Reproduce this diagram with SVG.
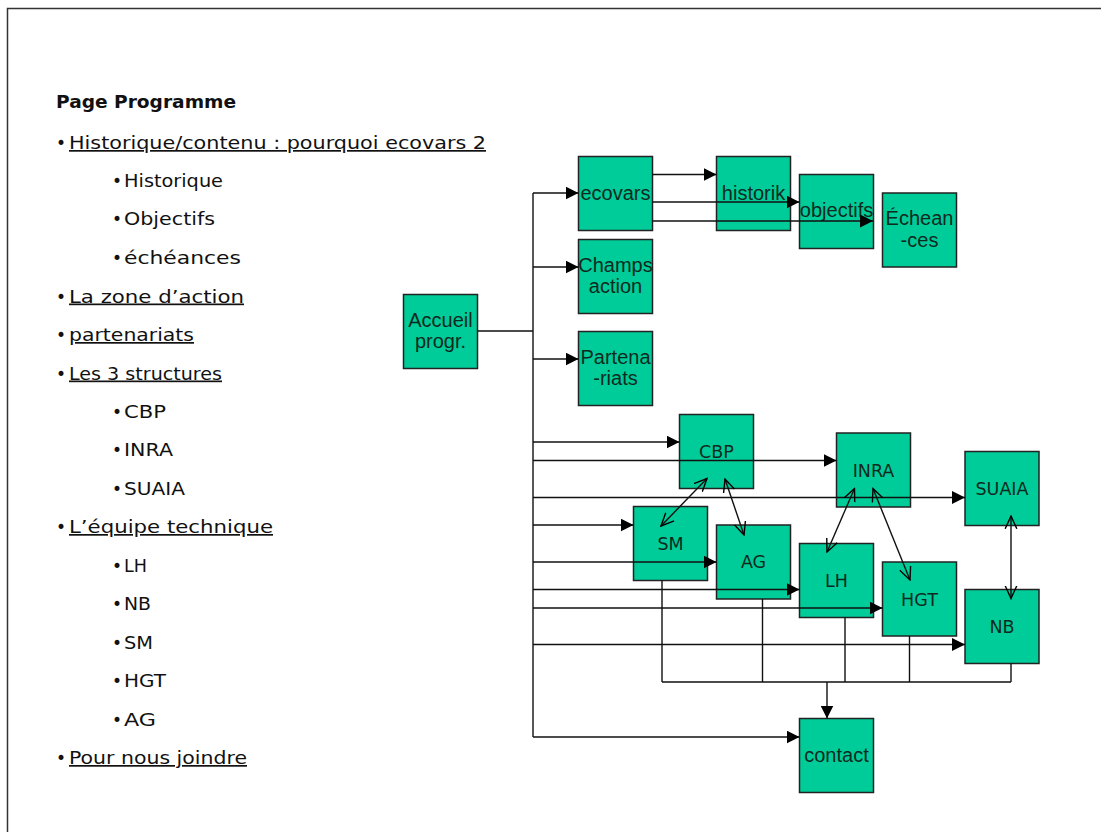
<svg xmlns="http://www.w3.org/2000/svg" width="1101" height="832" viewBox="0 0 1101 832">
<defs>
<style>
.frame{fill:none;stroke:#333;stroke-width:1.5}
.node rect{fill:#00CC99;stroke:#222;stroke-width:1.5}
.a{font-family:"Liberation Sans",Arial,sans-serif;font-size:20px;fill:#0d2a20;text-anchor:middle}
.g{font-family:"DejaVu Sans","Noto Sans",sans-serif;font-size:17.5px;fill:#0d2a20;text-anchor:middle}
.lst{font-family:"DejaVu Sans","Noto Sans",sans-serif;font-size:17px;fill:#111}
.u{text-decoration:underline}
.b{font-weight:bold}
.c{fill:none;stroke:#111;stroke-width:1.4}
</style>
<marker id="ah" markerUnits="userSpaceOnUse" markerWidth="13" markerHeight="13" viewBox="0 0 12 12" refX="12" refY="6" orient="auto">
<path d="M0,0 L12,6 L0,12 z" fill="#000"/>
</marker>
<marker id="oh" markerUnits="userSpaceOnUse" markerWidth="14" markerHeight="14" viewBox="0 0 12 12" refX="11" refY="6" orient="auto-start-reverse">
<path d="M0,1 L11,6 L0,11" fill="none" stroke="#000" stroke-width="1.2"/>
</marker>
</defs>
<rect class="frame" x="7.5" y="8.5" width="1100" height="830"/>

<g id="outline">
<text class="lst b" x="56" y="108" textLength="180" lengthAdjust="spacingAndGlyphs">Page Programme</text>
<text class="lst" x="56" y="149">•</text><text class="lst u" x="69" y="149" textLength="417" lengthAdjust="spacingAndGlyphs">Historique/contenu : pourquoi ecovars 2</text>
<text class="lst" x="112" y="187">•</text><text class="lst" x="124" y="187" textLength="99" lengthAdjust="spacingAndGlyphs">Historique</text>
<text class="lst" x="112" y="225">•</text><text class="lst" x="124" y="225" textLength="91" lengthAdjust="spacingAndGlyphs">Objectifs</text>
<text class="lst" x="112" y="263.5">•</text><text class="lst" x="124" y="263.5" textLength="117" lengthAdjust="spacingAndGlyphs">échéances</text>
<text class="lst" x="56" y="302.5">•</text><text class="lst u" x="69" y="302.5" textLength="175" lengthAdjust="spacingAndGlyphs">La zone d’action</text>
<text class="lst" x="56" y="341">•</text><text class="lst u" x="69" y="341" textLength="125" lengthAdjust="spacingAndGlyphs">partenariats</text>
<text class="lst" x="56" y="379.5">•</text><text class="lst u" x="69" y="379.5" textLength="153" lengthAdjust="spacingAndGlyphs">Les 3 structures</text>
<text class="lst" x="112" y="418">•</text><text class="lst" x="124" y="418" textLength="42" lengthAdjust="spacingAndGlyphs">CBP</text>
<text class="lst" x="112" y="456">•</text><text class="lst" x="124" y="456" textLength="49" lengthAdjust="spacingAndGlyphs">INRA</text>
<text class="lst" x="112" y="494.5">•</text><text class="lst" x="124" y="494.5" textLength="61" lengthAdjust="spacingAndGlyphs">SUAIA</text>
<text class="lst" x="56" y="533">•</text><text class="lst u" x="69" y="533" textLength="204" lengthAdjust="spacingAndGlyphs">L’équipe technique</text>
<text class="lst" x="112" y="571.5">•</text><text class="lst" x="124" y="571.5" textLength="23" lengthAdjust="spacingAndGlyphs">LH</text>
<text class="lst" x="112" y="610">•</text><text class="lst" x="124" y="610" textLength="27" lengthAdjust="spacingAndGlyphs">NB</text>
<text class="lst" x="112" y="648.5">•</text><text class="lst" x="124" y="648.5" textLength="29" lengthAdjust="spacingAndGlyphs">SM</text>
<text class="lst" x="112" y="687">•</text><text class="lst" x="124" y="687" textLength="42" lengthAdjust="spacingAndGlyphs">HGT</text>
<text class="lst" x="112" y="725.5">•</text><text class="lst" x="124" y="725.5" textLength="32" lengthAdjust="spacingAndGlyphs">AG</text>
<text class="lst" x="56" y="764">•</text><text class="lst u" x="69" y="764" textLength="178" lengthAdjust="spacingAndGlyphs">Pour nous joindre</text>
</g>

<g id="n-accueil" class="node"><rect x="403.5" y="294.5" width="74" height="74"/><text class="a" x="440.5" y="327">Accueil</text><text class="a" x="440.5" y="348">progr.</text></g>
<g id="n-ecovars" class="node"><rect x="578.5" y="156.5" width="74" height="74"/><text class="a" x="615.5" y="199.5">ecovars</text></g>
<g id="n-champs" class="node"><rect x="578.5" y="239.5" width="74" height="74"/><text class="a" x="615.5" y="271.5">Champs</text><text class="a" x="615.5" y="292.5">action</text></g>
<g id="n-partena" class="node"><rect x="578.5" y="331.5" width="74" height="74"/><text class="a" x="615.5" y="363.5">Partena</text><text class="a" x="615.5" y="385">-riats</text></g>
<g id="n-historik" class="node"><rect x="716.5" y="156.5" width="74" height="74"/><text class="a" x="753.5" y="199.5">historik</text></g>
<g id="n-objectifs" class="node"><rect x="799.5" y="174.5" width="74" height="74"/><text class="a" x="836.5" y="217">objectifs</text></g>
<g id="n-echeances" class="node"><rect x="882.5" y="193" width="74" height="74"/><text class="a" x="919.5" y="225">Échean</text><text class="a" x="919.5" y="246.5">-ces</text></g>
<g id="n-cbp" class="node"><rect x="679.5" y="414.5" width="74" height="74"/><text class="g" x="716.5" y="458">CBP</text></g>
<g id="n-inra" class="node"><rect x="836.5" y="433" width="74" height="74"/><text class="g" x="873.5" y="476.5">INRA</text></g>
<g id="n-suaia" class="node"><rect x="965" y="451.5" width="74" height="74"/><text class="g" x="1002" y="495">SUAIA</text></g>
<g id="n-sm" class="node"><rect x="633.5" y="506.5" width="74" height="74"/><text class="g" x="670.5" y="550">SM</text></g>
<g id="n-ag" class="node"><rect x="716.5" y="525" width="74" height="74"/><text class="g" x="753.5" y="568">AG</text></g>
<g id="n-lh" class="node"><rect x="799.5" y="543.5" width="74" height="74"/><text class="g" x="836.5" y="586.5">LH</text></g>
<g id="n-hgt" class="node"><rect x="882.5" y="562" width="74" height="74"/><text class="g" x="919.5" y="605.5">HGT</text></g>
<g id="n-nb" class="node"><rect x="965" y="589.5" width="74" height="74"/><text class="g" x="1002" y="632.5">NB</text></g>
<g id="n-contact" class="node"><rect x="799.5" y="718.5" width="74" height="74"/><text class="a" x="836.5" y="761.5">contact</text></g>

<g id="connectors">
<path class="c" d="M477.5,331 H533 M533,193 V737"/>
<path class="c" d="M533,193 H578.5" marker-end="url(#ah)"/>
<path class="c" d="M533,267 H578.5" marker-end="url(#ah)"/>
<path class="c" d="M533,359 H578.5" marker-end="url(#ah)"/>
<path class="c" d="M533,442 H679.5" marker-end="url(#ah)"/>
<path class="c" d="M533,460.5 H836.5" marker-end="url(#ah)"/>
<path class="c" d="M533,497.5 H965" marker-end="url(#ah)"/>
<path class="c" d="M533,525 H633.5" marker-end="url(#ah)"/>
<path class="c" d="M533,562 H716.5" marker-end="url(#ah)"/>
<path class="c" d="M533,589.5 H799.5" marker-end="url(#ah)"/>
<path class="c" d="M533,608 H882.5" marker-end="url(#ah)"/>
<path class="c" d="M533,644.5 H965" marker-end="url(#ah)"/>
<path class="c" d="M533,737 H799.5" marker-end="url(#ah)"/>
<path class="c" d="M652.5,174.5 H716.5" marker-end="url(#ah)"/>
<path class="c" d="M652.5,202 H799.5" marker-end="url(#ah)"/>
<path class="c" d="M652.5,221 H873" marker-end="url(#ah)"/>
<path class="c" d="M707,478.5 L661,526" marker-start="url(#oh)" marker-end="url(#oh)"/>
<path class="c" d="M725,479 L744,535" marker-start="url(#oh)" marker-end="url(#oh)"/>
<path class="c" d="M854.5,488.5 L827,552" marker-start="url(#oh)" marker-end="url(#oh)"/>
<path class="c" d="M873,488.5 L910,580" marker-start="url(#oh)" marker-end="url(#oh)"/>
<path class="c" d="M1011,516 V598.5" marker-start="url(#oh)" marker-end="url(#oh)"/>
<path class="c" d="M662,580.5 V682 M762.5,599 V682 M845,617.5 V682 M909.5,636 V682 M1011,663.5 V682 M662,682 H1011"/>
<path class="c" d="M827,682 V718.5" marker-end="url(#ah)"/>
</g>
</svg>
